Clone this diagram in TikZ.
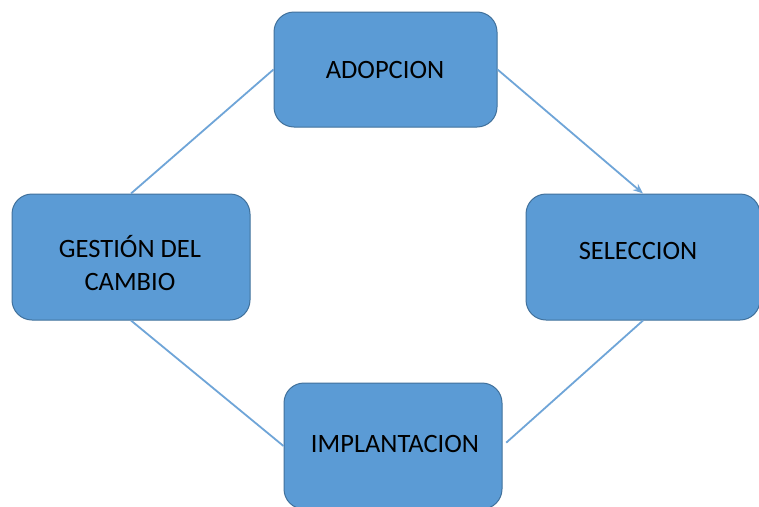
\documentclass[tikz,border=0pt]{standalone}
\usepackage{fontspec}
\setmainfont{Carlito}
\usetikzlibrary{arrows.meta}
\definecolor{boxfill}{HTML}{5B9BD5}
\definecolor{boxline}{HTML}{41719C}
\definecolor{conn}{HTML}{6FA5D8}
\begin{document}
\begin{tikzpicture}[x=1pt,y=-1pt,
  stagebox/.style={draw=boxline, line width=1pt, fill=boxfill, rounded corners=20pt,
    inner sep=0pt, align=center, font=\fontsize{26.5}{33}\selectfont, text=black},
  stagetext/.style={font=\fontsize{26.5}{33}\selectfont, align=center, text=black, inner sep=0pt},
  link/.style={draw=conn, line width=1.8pt}]
\useasboundingbox (0,0) rectangle (759,506);
\clip (0,0) rectangle (759,506);
\fill[white] (0,0) rectangle (759,506);
\node[stagebox, minimum width=223pt, minimum height=115pt] (ado) at (385.5,69.5) {};
\node[stagetext] (adot) at (385,70) {ADOPCION};
\node[stagebox, minimum width=234pt, minimum height=126pt] (sel) at (643,257) {};
\node[stagetext] (selt) at (638,251) {SELECCION};
\node[stagebox, minimum width=238pt, minimum height=126pt] (ges) at (131,257) {};
\node[stagetext] (gest) at (130,263) {GESTIÓN DEL\\CAMBIO};
\node[stagebox, minimum width=218pt, minimum height=126pt] (imp) at (393,446) {};
\node[stagetext] (impt) at (395,444) {IMPLANTACION};
\draw[link, -{Stealth[length=10pt,width=8pt]}] (ado.east) -- (sel.north);
\draw[link, shorten >=5pt] (sel.south) -- (imp.east);
\draw[link] (imp.west) -- (ges.south);
\draw[link] (ges.north) -- (ado.west);
\end{tikzpicture}
\end{document}
